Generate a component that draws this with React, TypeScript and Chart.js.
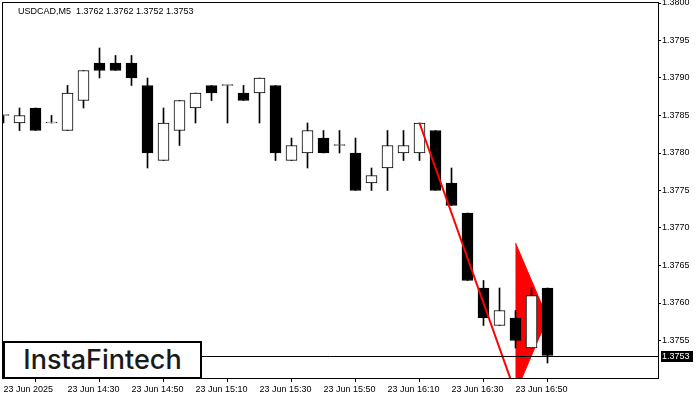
import React, { useEffect, useRef } from "react";
import { Chart, registerables } from "chart.js";
Chart.register(...registerables);

// ---- data ----
const symbol = "USDCAD,M5";
const opens = [1.3785, 1.3784, 1.3786, 1.3784, 1.3783, 1.3787, 1.3792, 1.3792, 1.3792, 1.3789, 1.3779, 1.3783, 1.3786, 1.3789, 1.3789, 1.3788, 1.3788, 1.3789, 1.3779, 1.3780, 1.3782, 1.3781, 1.3780, 1.3776, 1.3778, 1.3780, 1.3780, 1.3783, 1.3776, 1.3772, 1.3762, 1.3757, 1.3758, 1.3754, 1.3762];
const highs = [1.3785, 1.3786, 1.3786, 1.3785, 1.3789, 1.3791, 1.3794, 1.3793, 1.3793, 1.3790, 1.3786, 1.3787, 1.3788, 1.3789, 1.3789, 1.3789, 1.3790, 1.3789, 1.3782, 1.3784, 1.3783, 1.3783, 1.3782, 1.3778, 1.3783, 1.3783, 1.3784, 1.3783, 1.3778, 1.3772, 1.3763, 1.3762, 1.3759, 1.3762, 1.3762];
const lows = [1.3784, 1.3783, 1.3783, 1.3784, 1.3783, 1.3786, 1.3790, 1.3791, 1.3789, 1.3778, 1.3779, 1.3781, 1.3784, 1.3787, 1.3784, 1.3787, 1.3784, 1.3779, 1.3779, 1.3778, 1.3780, 1.3780, 1.3775, 1.3775, 1.3775, 1.3779, 1.3779, 1.3775, 1.3773, 1.3763, 1.3757, 1.3757, 1.3754, 1.3754, 1.3752];
const closes = [1.3785, 1.3785, 1.3783, 1.3784, 1.3788, 1.3791, 1.3791, 1.3791, 1.3790, 1.3780, 1.3784, 1.3787, 1.3788, 1.3788, 1.3789, 1.3787, 1.3790, 1.3780, 1.3781, 1.3783, 1.3780, 1.3781, 1.3775, 1.3777, 1.3781, 1.3781, 1.3784, 1.3775, 1.3773, 1.3763, 1.3758, 1.3759, 1.3755, 1.3761, 1.3753];

// pennant pattern: pole and flag
const poleX = [26, 32];
const poleY = [1.3784, 1.3748];
const pennantX = [32, 34, 32];
const pennantY = [1.3768, 1.3758, 1.3748];

// axes
const xTickIdx = [0, 4, 8, 12, 16, 20, 24, 28, 32];
const xTickLabels = ["23 Jun 2025", "23 Jun 14:30", "23 Jun 14:50", "23 Jun 15:10", "23 Jun 15:30", "23 Jun 15:50", "23 Jun 16:10", "23 Jun 16:30", "23 Jun 16:50"];
const yTickVals = [1.3755, 1.376, 1.3765, 1.377, 1.3775, 1.378, 1.3785, 1.379, 1.3795, 1.38];
const yMin = 1.375;
const yMax = 1.38;

const X_MIN = -0.03125;
const X_MAX = X_MIN + 655 / 16;
const FONT_FAMILY = "'Liberation Sans', Arial, sans-serif";

export default function App() {
  const ref = useRef<HTMLCanvasElement>(null);

  useEffect(() => {
    const canvas = ref.current;
    if (!canvas) return;
    const n = closes.length;
    const idx = closes.map((_, i) => i);
    const font = { family: FONT_FAMILY, size: 9 };

    const framePlugin = {
      id: "frame",
      afterDatasetsDraw(chart: any) {
        const { ctx, chartArea: a, scales } = chart;
        const last = closes[n - 1];
        const py = Math.round(scales.y.getPixelForValue(last)) + 0.5;
        ctx.save();
        ctx.strokeStyle = "#000";
        ctx.lineWidth = 1;
        ctx.beginPath();
        ctx.moveTo(a.left, py);
        ctx.lineTo(a.right, py);
        ctx.stroke();
        ctx.strokeRect(a.left - 0.5, a.top - 0.5, a.right - a.left + 1, a.bottom - a.top + 1);
        ctx.fillStyle = "#000";
        ctx.fillRect(a.right + 3, py - 5.5, 32, 11);
        ctx.fillStyle = "#fff";
        ctx.font = `9px ${FONT_FAMILY}`;
        ctx.textBaseline = "middle";
        ctx.textAlign = "left";
        ctx.fillText(last.toFixed(4), a.right + 4, py + 0.5);
        ctx.restore();
      },
    };

    const chart = new Chart(canvas, {
      type: "bar",
      data: {
        datasets: [
          {
            type: "line",
            data: poleX.map((x, i) => ({ x, y: poleY[i] })),
            borderColor: "#ff0000",
            borderWidth: 2,
            pointRadius: 0,
            fill: false,
            clip: 0,
            order: 0,
          } as any,
          {
            type: "bar",
            data: idx.map((i) => ({ x: i, y: [opens[i], closes[i]] })),
            backgroundColor: idx.map((i) => (closes[i] >= opens[i] ? "#ffffff" : "#000000")),
            borderColor: "#000",
            borderWidth: 1,
            borderSkipped: false,
            barThickness: 11,
            minBarLength: 1,
            grouped: false,
            clip: 0,
            order: 1,
          } as any,
          {
            type: "bar",
            data: idx.map((i) => ({ x: i, y: [lows[i], highs[i]] })),
            backgroundColor: "#000",
            borderWidth: 0,
            barThickness: 1,
            grouped: false,
            clip: 0,
            order: 2,
          } as any,
          {
            type: "line",
            data: pennantX.map((x, i) => ({ x, y: pennantY[i] })),
            borderColor: "#ff0000",
            borderWidth: 1,
            backgroundColor: "#ff0000",
            fill: "shape",
            pointRadius: 0,
            tension: 0,
            clip: 0,
            order: 3,
          } as any,
        ],
      },
      options: {
        responsive: false,
        animation: false,
        events: [],
        layout: { padding: { left: 3, top: 3, right: 0, bottom: 0 } },
        plugins: {
          legend: { display: false },
          tooltip: { enabled: false },
          title: { display: false },
        },
        scales: {
          x: {
            type: "linear",
            min: X_MIN,
            max: X_MAX,
            offset: false,
            grid: { display: true, drawOnChartArea: false, drawTicks: true, tickLength: 4, color: "#000", lineWidth: 1 },
            border: { display: false },
            ticks: {
              autoSkip: false,
              maxRotation: 0,
              minRotation: 0,
              align: "start",
              padding: 2,
              color: "#000",
              font,
              callback: (v: any) => {
                const k = xTickIdx.indexOf(Number(v));
                return k >= 0 ? xTickLabels[k] : "";
              },
            },
            afterBuildTicks: (ax: any) => {
              ax.ticks = xTickIdx.map((v) => ({ value: v }));
            },
            afterFit: (ax: any) => {
              ax.height = 22;
              ax.paddingLeft = 0;
              ax.paddingRight = 0;
            },
          },
          y: {
            type: "linear",
            position: "right",
            min: yMin,
            max: yMax,
            grid: { display: true, drawOnChartArea: false, drawTicks: true, tickLength: 3, color: "#000", lineWidth: 1 },
            border: { display: false },
            ticks: {
              padding: 1,
              color: "#000",
              font,
              callback: (v: any) => Number(v).toFixed(4),
            },
            afterBuildTicks: (ax: any) => {
              ax.ticks = yTickVals.map((v) => ({ value: v }));
            },
            afterFit: (ax: any) => {
              ax.width = 42;
              ax.paddingTop = 0;
              ax.paddingBottom = 0;
            },
          },
        },
      } as any,
      plugins: [framePlugin],
    });

    return () => chart.destroy();
  }, []);

  const last = closes.length - 1;
  const title = `${symbol}  ${opens[last].toFixed(4)} ${highs[last].toFixed(4)} ${lows[last].toFixed(4)} ${closes[last].toFixed(4)}`;

  return (
    <div style={{ position: "fixed", left: 0, top: 0, width: 700, height: 400, background: "#fff", overflow: "hidden" }}>
      <canvas ref={ref} width={700} height={400} style={{ position: "absolute", left: 0, top: 0, width: 700, height: 400 }} />
      <div
        style={{
          position: "absolute",
          left: 18,
          top: 6,
          fontFamily: FONT_FAMILY,
          fontSize: 9,
          lineHeight: "11px",
          color: "#000",
          whiteSpace: "pre",
        }}
      >
        {title}
      </div>
      <div
        style={{
          position: "absolute",
          left: 3,
          top: 341,
          width: 199,
          height: 38,
          boxSizing: "border-box",
          border: "2px solid #000",
          background: "#fff",
          display: "flex",
          alignItems: "center",
          justifyContent: "center",
          fontFamily: "Inter, 'Open Sans', sans-serif",
          fontWeight: 500,
          fontSize: 27,
          color: "#1a1a1a",
          lineHeight: "30px",
        }}
      >
        InstaFintech
      </div>
    </div>
  );
}
